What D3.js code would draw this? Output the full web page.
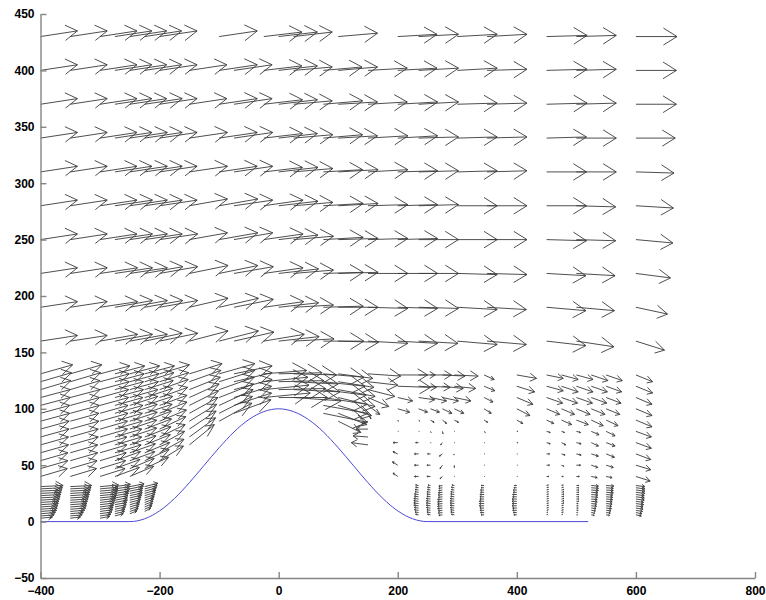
<!DOCTYPE html>
<html>
<head>
<meta charset="utf-8">
<script src="https://cdn.jsdelivr.net/npm/d3@7"></script>
<style>
  body { margin: 0; background: #fff; }
  .axis text { font-family: "Liberation Sans", Arial, sans-serif; font-size: 12px; font-weight: bold; fill: #000; }
  .axis path, .axis line { stroke: #858585; stroke-width: 1.4; }
</style>
</head>
<body>
<svg id="chart"></svg>
<script>
// bed profile (hill)
const bedX = [-400, -250, -225, -200, -175, -150, -125, -100, -75, -50, -25, 0, 25, 50, 75, 100, 125, 150, 175, 200, 225, 250, 520];
const bedY = [0, 0, 2.5, 9.5, 20.5, 34.5, 50, 65.5, 79.5, 90.5, 97.5, 100, 97.5, 90.5, 79.5, 65.5, 50, 34.5, 20.5, 9.5, 2.5, 0, 0];

// upper field: rows (bottom -> top), one value per station
const upperLevels = [160, 190, 220, 250, 280, 310, 340, 370, 400, 430];
const upperStations = [-400, -350, -300, -275, -250, -225, -200, -150, -100, -75, -25, 0, 25, 75, 100, 150, 200, 235, 300, 350, 450, 500, 600];
const upperU = [
  [0.62,0.62,0.63,0.63,0.63,0.63,0.64,0.65,0.66,0.67,0.68,0.68,0.68,0.68,0.68,0.67,0.67,0.66,0.67,0.66,0.66,0.63,0.48],
  [0.62,0.62,0.63,0.63,0.63,0.64,0.64,0.65,0.66,0.66,0.67,0.67,0.67,0.67,0.67,0.67,0.67,0.67,0.67,0.66,0.66,0.64,0.53],
  [0.62,0.62,0.63,0.63,0.63,0.64,0.64,0.65,0.65,0.66,0.66,0.67,0.67,0.67,0.67,0.67,0.67,0.67,0.67,0.67,0.66,0.65,0.58],
  [0.62,0.62,0.62,0.63,0.63,0.63,0.64,0.64,0.65,0.65,0.66,0.66,0.67,0.67,0.67,0.67,0.67,0.67,0.67,0.67,0.67,0.66,0.62],
  [0.62,0.62,0.62,0.63,0.63,0.63,0.63,0.64,0.65,0.65,0.66,0.66,0.66,0.67,0.67,0.67,0.67,0.67,0.67,0.67,0.67,0.66,0.63],
  [0.62,0.62,0.62,0.62,0.63,0.63,0.63,0.64,0.64,0.65,0.65,0.66,0.66,0.66,0.67,0.67,0.67,0.67,0.67,0.67,0.67,0.67,0.64],
  [0.62,0.62,0.62,0.62,0.63,0.63,0.63,0.64,0.64,0.65,0.65,0.65,0.66,0.66,0.66,0.67,0.67,0.67,0.67,0.67,0.67,0.67,0.66],
  [0.62,0.62,0.62,0.62,0.62,0.63,0.63,0.63,0.64,0.64,0.65,0.65,0.65,0.66,0.66,0.66,0.67,0.67,0.67,0.67,0.68,0.67,0.68],
  [0.62,0.62,0.62,0.62,0.62,0.62,0.63,0.63,0.64,0.64,0.64,0.65,0.65,0.65,0.66,0.66,0.66,0.67,0.67,0.67,0.68,0.67,0.68],
  [0.62,0.62,0.62,0.62,0.62,0.62,0.63,null,0.64,null,0.64,0.65,0.65,null,0.66,null,0.66,0.67,0.67,0.67,0.68,0.67,0.69]
];
const upperV = [
  [0.05,0.05,0.06,0.06,0.06,0.07,0.07,0.09,0.09,0.08,0.06,0.04,0.02,0.00,-0.01,-0.02,-0.02,-0.02,-0.03,-0.03,-0.04,-0.05,-0.08],
  [0.05,0.05,0.05,0.06,0.06,0.06,0.06,0.08,0.08,0.07,0.05,0.04,0.02,0.01,0.00,-0.01,-0.01,-0.01,-0.02,-0.02,-0.03,-0.03,-0.06],
  [0.05,0.05,0.05,0.05,0.05,0.06,0.06,0.07,0.07,0.06,0.05,0.04,0.03,0.01,0.01,0.00,0.00,0.00,-0.01,-0.01,-0.02,-0.02,-0.04],
  [0.05,0.05,0.05,0.05,0.05,0.05,0.05,0.06,0.06,0.06,0.05,0.04,0.03,0.02,0.01,0.01,0.01,0.00,0.00,0.00,-0.01,-0.01,-0.03],
  [0.05,0.05,0.05,0.05,0.05,0.05,0.05,0.06,0.06,0.05,0.05,0.04,0.03,0.02,0.02,0.01,0.01,0.01,0.00,0.00,0.00,-0.01,-0.02],
  [0.05,0.05,0.05,0.05,0.05,0.05,0.05,0.05,0.05,0.05,0.04,0.04,0.03,0.02,0.02,0.02,0.01,0.01,0.01,0.01,0.00,0.00,-0.01],
  [0.05,0.05,0.05,0.05,0.05,0.05,0.05,0.05,0.05,0.05,0.04,0.04,0.03,0.03,0.02,0.02,0.02,0.01,0.01,0.01,0.01,0.00,0.00],
  [0.05,0.05,0.05,0.05,0.05,0.05,0.05,0.05,0.05,0.05,0.04,0.04,0.03,0.03,0.02,0.02,0.02,0.02,0.01,0.01,0.01,0.01,0.00],
  [0.05,0.05,0.05,0.05,0.05,0.05,0.05,0.05,0.05,0.05,0.04,0.04,0.03,0.03,0.03,0.02,0.02,0.02,0.02,0.01,0.01,0.01,0.00],
  [0.05,0.05,0.05,0.05,0.05,0.05,0.05,null,0.05,null,0.04,0.04,0.04,null,0.03,null,0.02,0.02,0.02,0.02,0.01,0.01,0.00]
];

// lower field over the hill: one profile per station (bottom -> top)
const lowerLevels = [40, 47, 54, 61, 68, 75, 82, 89, 96, 103, 110, 117, 124, 131];
const lowerStations = [-400, -350, -300, -275, -250, -225, -200, -150, -100, -75, -25, 0, 25, 75, 100, 150];
const lowerU = [
  [0.45,0.46,0.46,0.47,0.47,0.48,0.48,0.49,0.49,0.50,0.50,0.51,0.52,0.54],
  [0.44,0.45,0.46,0.46,0.47,0.47,0.48,0.48,0.49,0.49,0.50,0.50,0.51,0.53],
  [0.42,0.43,0.44,0.45,0.45,0.46,0.46,0.47,0.47,0.48,0.48,0.49,0.49,0.50],
  [0.41,0.42,0.43,0.44,0.45,0.45,0.46,0.46,0.47,0.47,0.48,0.48,0.49,0.50],
  [0.40,0.41,0.42,0.43,0.44,0.45,0.45,0.46,0.46,0.47,0.47,0.48,0.49,0.50],
  [null,0.40,0.41,0.42,0.43,0.44,0.45,0.45,0.46,0.47,0.47,0.48,0.49,0.50],
  [null,null,0.40,0.41,0.42,0.43,0.44,0.45,0.46,0.46,0.47,0.48,0.49,0.50],
  [null,null,null,null,0.42,0.44,0.45,0.46,0.48,0.49,0.50,0.52,0.53,0.55],
  [null,null,null,null,null,null,null,0.55,0.56,0.57,0.58,0.59,0.60,0.60],
  [null,null,null,null,null,null,null,null,0.62,0.63,0.63,0.64,0.64,0.64],
  [null,null,null,null,null,null,null,null,null,null,0.78,0.76,0.74,0.72],
  [null,null,null,null,null,null,null,null,null,null,0.82,0.79,0.76,0.73],
  [null,null,null,null,null,null,null,null,null,null,0.80,0.78,0.75,0.72],
  [null,null,null,null,null,null,null,null,0.74,0.75,0.74,0.72,0.70,0.68],
  [null,null,null,null,null,null,null,0.38,0.48,0.56,0.62,0.62,0.60,0.58],
  [null,null,null,null,-0.28,-0.25,-0.20,-0.10,0.05,0.20,0.35,0.45,0.50,0.55]
];
const lowerV = [
  [0.07,0.07,0.07,0.07,0.07,0.07,0.07,0.07,0.07,0.07,0.07,0.08,0.08,0.08],
  [0.07,0.07,0.07,0.07,0.07,0.07,0.07,0.07,0.07,0.07,0.07,0.08,0.08,0.08],
  [0.07,0.07,0.07,0.07,0.07,0.07,0.07,0.07,0.07,0.07,0.07,0.07,0.07,0.07],
  [0.08,0.08,0.08,0.07,0.07,0.07,0.07,0.07,0.07,0.07,0.07,0.07,0.07,0.07],
  [0.09,0.09,0.08,0.08,0.08,0.08,0.08,0.08,0.08,0.08,0.07,0.07,0.07,0.07],
  [null,0.10,0.10,0.09,0.09,0.09,0.09,0.09,0.08,0.08,0.08,0.08,0.08,0.07],
  [null,null,0.13,0.12,0.12,0.11,0.11,0.10,0.10,0.09,0.09,0.09,0.08,0.08],
  [null,null,null,null,0.18,0.17,0.16,0.15,0.14,0.13,0.12,0.11,0.10,0.09],
  [null,null,null,null,null,null,null,0.16,0.15,0.14,0.12,0.11,0.10,0.09],
  [null,null,null,null,null,null,null,null,0.12,0.11,0.10,0.09,0.08,0.07],
  [null,null,null,null,null,null,null,null,null,null,0.04,0.04,0.04,0.03],
  [null,null,null,null,null,null,null,null,null,null,0.00,0.01,0.01,0.01],
  [null,null,null,null,null,null,null,null,null,null,-0.03,-0.02,-0.02,-0.01],
  [null,null,null,null,null,null,null,null,-0.08,-0.07,-0.06,-0.05,-0.04,-0.03],
  [null,null,null,null,null,null,null,-0.10,-0.10,-0.09,-0.08,-0.06,-0.05,-0.04],
  [null,null,null,null,0.02,0.01,0.00,-0.02,-0.05,-0.08,-0.08,-0.06,-0.03,-0.02]
];

// lee side middle field: one profile per station (bottom -> top)
const leeLevels = [40, 50, 60, 70, 80, 90, 100, 110, 120, 130];
const leeStations = [200, 235, 255, 275, 295, 345, 400, 450, 475, 500, 525, 550, 600];
const leeU = [
  [-0.08,-0.09,-0.08,-0.08,0.01,0.01,0.20,0.25,0.55,0.50],
  [-0.07,-0.07,-0.07,-0.05,0.01,0.02,0.15,0.27,0.30,0.28],
  [-0.06,-0.06,-0.05,0.01,0.01,0.06,0.15,0.27,0.33,0.35],
  [-0.04,-0.04,-0.05,-0.03,0.01,0.07,0.16,0.27,0.35,0.38],
  [0.01,0.00,-0.01,0.01,0.01,0.07,0.16,0.28,0.36,0.40],
  [0.01,0.01,0.01,0.01,0.02,0.06,0.12,0.15,0.18,0.17],
  [0.01,0.01,0.01,0.02,0.02,0.10,0.22,0.27,0.30,0.33],
  [0.04,0.05,0.05,0.06,0.06,0.12,0.22,0.27,0.28,0.28],
  [0.03,0.04,0.06,0.07,0.05,0.17,0.22,0.27,0.28,0.28],
  [0.05,0.07,0.08,0.08,0.07,0.20,0.23,0.27,0.28,0.28],
  [0.10,0.11,0.12,0.12,0.13,0.20,0.23,0.26,0.27,0.28],
  [0.10,0.12,0.14,0.15,0.15,0.20,0.23,0.25,0.26,0.27],
  [0.24,0.25,0.25,0.26,0.26,0.27,0.27,0.27,0.28,0.28]
];
const leeV = [
  [0.03,0.03,0.02,0.00,0.00,-0.01,-0.03,-0.03,-0.01,0.00],
  [0.00,0.00,0.00,0.00,0.00,-0.01,-0.03,-0.02,-0.01,0.00],
  [0.00,0.00,0.00,0.00,-0.01,-0.02,-0.03,-0.03,-0.01,0.00],
  [-0.02,-0.03,-0.02,-0.02,-0.02,-0.03,-0.04,-0.03,-0.02,-0.01],
  [0.00,-0.02,-0.01,0.00,0.00,-0.02,-0.04,-0.03,-0.02,-0.01],
  [0.00,0.00,0.00,0.00,-0.01,-0.02,-0.04,-0.04,-0.04,-0.04],
  [0.00,0.00,0.00,0.00,0.00,-0.03,-0.06,-0.06,-0.05,-0.03],
  [0.00,0.00,0.00,-0.01,-0.01,-0.03,-0.05,-0.05,-0.04,-0.03],
  [0.00,-0.01,-0.01,-0.02,-0.01,-0.04,-0.05,-0.05,-0.05,-0.04],
  [0.00,0.00,-0.01,-0.01,-0.01,-0.04,-0.05,-0.05,-0.05,-0.04],
  [-0.01,-0.02,-0.02,-0.03,-0.03,-0.05,-0.05,-0.05,-0.05,-0.05],
  [-0.01,-0.02,-0.03,-0.03,-0.04,-0.05,-0.05,-0.05,-0.05,-0.05],
  [-0.04,-0.04,-0.05,-0.05,-0.05,-0.06,-0.06,-0.06,-0.06,-0.06]
];

// near-bed profiles, upstream (bottom -> top)
const nearUpLevels = [3, 5, 7, 9, 11, 13, 15, 17, 19, 21, 23, 25, 27, 29, 31];
const nearUpStations = [-400, -350, -300, -275, -250, -225];
const nearUpU = [
  [0.20,0.23,0.25,0.27,0.28,0.29,0.30,0.31,0.32,0.33,0.34,0.35,0.36,0.37,0.38],
  [0.17,0.20,0.22,0.24,0.26,0.27,0.28,0.29,0.30,0.31,0.32,0.33,0.34,0.35,0.36],
  [0.16,0.18,0.20,0.21,0.22,0.23,0.24,0.25,0.26,0.27,0.28,0.29,0.30,0.30,0.31],
  [null,0.14,0.16,0.17,0.18,0.19,0.20,0.21,0.21,0.22,0.23,0.24,0.25,0.25,0.26],
  [null,null,0.12,0.14,0.15,0.16,0.17,0.18,0.19,0.20,0.21,0.21,0.22,0.23,0.24],
  [null,null,null,0.10,0.12,0.13,0.14,0.15,0.16,0.17,0.18,0.19,0.20,0.21,0.22]
];
const nearUpV = [0.01, 0.01, 0.015, 0.02, 0.025, 0.03];

// near-bed profiles, lee side (bottom -> top)
const nearLeeLevels = [6, 8, 10, 12, 14, 16, 18, 20, 22, 24, 26, 28, 30, 32];
const nearLeeStations = [235, 255, 275, 295, 345, 400, 450, 475, 500, 525, 550, 600];
const nearLeeU = [
  [-0.05,-0.06,-0.07,-0.07,-0.08,-0.08,-0.08,-0.08,-0.07,-0.07,-0.06,-0.06,-0.05,-0.05],
  [-0.05,-0.06,-0.06,-0.07,-0.07,-0.07,-0.07,-0.07,-0.06,-0.06,-0.06,-0.05,-0.05,-0.04],
  [-0.06,-0.07,-0.07,-0.08,-0.08,-0.08,-0.08,-0.08,-0.07,-0.07,-0.07,-0.06,-0.06,-0.06],
  [-0.05,-0.06,-0.06,-0.07,-0.07,-0.07,-0.07,-0.07,-0.06,-0.06,-0.06,-0.05,-0.05,-0.04],
  [-0.05,-0.06,-0.07,-0.07,-0.08,-0.08,-0.08,-0.07,-0.07,-0.07,-0.06,-0.06,-0.05,-0.05],
  [-0.05,-0.06,-0.07,-0.07,-0.08,-0.08,-0.08,-0.08,-0.07,-0.07,-0.06,-0.06,-0.05,-0.04],
  [0.02,0.02,0.03,0.03,0.03,0.03,0.03,0.03,0.03,0.03,0.03,0.03,0.03,0.03],
  [0.02,0.03,0.03,0.03,0.03,0.04,0.04,0.04,0.04,0.04,0.04,0.04,0.03,0.03],
  [0.02,0.02,0.03,0.03,0.03,0.03,0.04,0.04,0.04,0.04,0.04,0.04,0.04,0.04],
  [0.05,0.06,0.07,0.08,0.09,0.09,0.10,0.10,0.11,0.11,0.11,0.12,0.12,0.12],
  [0.06,0.07,0.08,0.09,0.09,0.10,0.10,0.11,0.11,0.11,0.12,0.12,0.12,0.13],
  [0.09,0.10,0.11,0.12,0.12,0.13,0.13,0.14,0.14,0.14,0.15,0.15,0.15,0.15]
];
const nearLeeV = [0.005, 0.005, -0.005, 0.005, 0.0, 0.0, 0.005, 0.005, 0.0, -0.005, -0.005, -0.01];

const width = 766;
const height = 600;

const x = d3.scaleLinear().domain([-400, 800]).range([40.5, 755]);
const y = d3.scaleLinear().domain([-50, 450]).range([578, 14]);

const svg = d3.select("#chart").attr("width", width).attr("height", height);

// collect all vectors
const arrows = [];
upperLevels.forEach((lev, r) => {
  upperStations.forEach((st, s) => {
    if (upperU[r][s] != null) arrows.push({ x: st, y: lev, u: upperU[r][s], v: upperV[r][s] });
  });
});
lowerStations.forEach((st, s) => {
  lowerLevels.forEach((lev, k) => {
    if (lowerU[s][k] != null) arrows.push({ x: st, y: lev, u: lowerU[s][k], v: lowerV[s][k] });
  });
});
leeStations.forEach((st, s) => {
  leeLevels.forEach((lev, k) => arrows.push({ x: st, y: lev, u: leeU[s][k], v: leeV[s][k] }));
});
nearUpStations.forEach((st, s) => {
  nearUpLevels.forEach((lev, k) => {
    if (nearUpU[s][k] != null) arrows.push({ x: st, y: lev, u: nearUpU[s][k], v: nearUpV[s] });
  });
});
nearLeeStations.forEach((st, s) => {
  nearLeeLevels.forEach((lev, k) => arrows.push({ x: st, y: lev, u: nearLeeU[s][k], v: nearLeeV[s] }));
});

// quiver style arrows, head built in data units
const scale = 100;
const alpha = 0.33, beta = 0.33;
function arrowPath(d) {
  const du = d.u * scale, dv = d.v * scale;
  const tx = d.x + du, ty = d.y + dv;
  const b1x = tx - alpha * (du + beta * dv), b1y = ty - alpha * (dv - beta * du);
  const b2x = tx - alpha * (du - beta * dv), b2y = ty - alpha * (dv + beta * du);
  return `M${x(d.x)},${y(d.y)}L${x(tx)},${y(ty)}` +
    `M${x(b1x)},${y(b1y)}L${x(tx)},${y(ty)}L${x(b2x)},${y(b2y)}`;
}

svg.append("g")
  .selectAll("path")
  .data(arrows)
  .join("path")
  .attr("d", arrowPath)
  .attr("fill", "none")
  .attr("stroke", "#3a3a3a")
  .attr("stroke-width", 0.9);

// bed line
svg.append("path")
  .datum(bedX.map((d, i) => [d, bedY[i]]))
  .attr("fill", "none")
  .attr("stroke", "#4b4bd6")
  .attr("stroke-width", 1)
  .attr("d", d3.line().x((d) => x(d[0])).y((d) => y(d[1])).curve(d3.curveMonotoneX));

// axes
const xAxis = d3.axisBottom(x).tickValues([-400, -200, 0, 200, 400, 600, 800])
  .tickSizeInner(-6).tickSizeOuter(0).tickPadding(8);
const yAxis = d3.axisLeft(y).tickValues(d3.range(-50, 451, 50))
  .tickSizeInner(-6).tickSizeOuter(0).tickPadding(6);

svg.append("g").attr("class", "axis").attr("transform", `translate(0,${y(-50)})`).call(xAxis);
svg.append("g").attr("class", "axis").attr("transform", `translate(${x(-400)},0)`).call(yAxis);
</script>
</body>
</html>
